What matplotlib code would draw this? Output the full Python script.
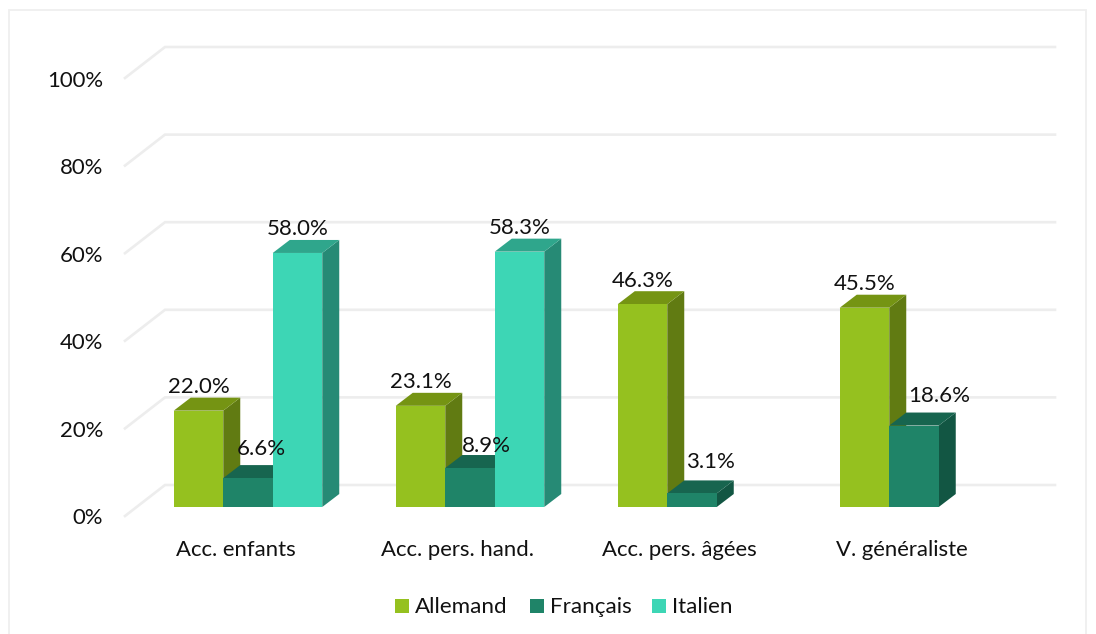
import matplotlib
matplotlib.use('Agg')
import matplotlib.pyplot as plt
from matplotlib.patches import Polygon, Rectangle

plt.rcParams['font.family'] = ['Lato', 'DejaVu Sans']

categories = ['Acc. enfants', 'Acc. pers. hand.', 'Acc. pers. âgées', 'V. généraliste']
allemand = [22.0, 23.1, 46.3, 45.5]
francais = [6.6, 8.9, 3.1, 18.6]
italien = [58.0, 58.3, None, None]
grid_values = [0, 20, 40, 60, 80, 100]

series = [
    ('Allemand', allemand, '#95c11f', '#617b12', '#759413'),
    ('Français', francais, '#1f8468', '#125643', '#17654f'),
    ('Italien', italien, '#3dd6b5', '#268a75', '#2fa68c'),
]

W, H = 1096, 634
PX_X = 222.0    # pixels per category
PX_Y = 4.38     # pixels per percent
X0 = 248.0      # pixel of first group centre
Y0 = 507.0      # pixel of 0% on the bars front

# the french labels were moved by hand in the original, (right, down) in pixels
label_shift = {0: (13, -6), 1: (16, 1), 2: (18, -8), 3: (25, -6)}

fig = plt.figure(figsize=(W / 100, H / 100), dpi=100)
ax = fig.add_axes([0, 0, 1, 1])
ax.set_xlim(-X0 / PX_X, (W - X0) / PX_X)
ax.set_ylim(-(H - Y0) / PX_Y, Y0 / PX_Y)
ax.axis('off')


def xp(px):
    return (px - X0) / PX_X


def yp(px):
    return px / PX_Y


bar_w = 49.5 / PX_X
dx = 17 / PX_X
dy = yp(13)
grid_c = '#ededed'
text_c = '#111111'

# chart border
ax.add_patch(Rectangle((xp(9.5), yp(Y0 - 640)), xp(1086) - xp(9.5), yp(630), fill=False,
                       ec='#efefef', lw=1.3, zorder=1))

# back wall lines and the slanted side wall
for v in grid_values:
    back = v + yp(22)
    ax.plot([xp(1055), xp(165), xp(125)], [back, back, v - yp(9)], color=grid_c, lw=1.9,
            solid_joinstyle='miter', zorder=2)
    ax.text(xp(103), v - yp(11.5), f'{v}%', ha='right', va='center', fontsize=15.9, color=text_c,
            zorder=20)

# bars, left to right so the next front face covers the previous side
z = 3
for i, cat in enumerate(categories):
    for j in range(3):
        name, vals, front, side, top = series[j]
        v = vals[i]
        if v is None:
            continue
        x = i + (j - 1) * bar_w
        left = x - bar_w / 2
        right = x + bar_w / 2
        ax.add_patch(Polygon([(right, 0), (right + dx, dy), (right + dx, v + dy), (right, v)],
                             closed=True, fc=side, ec='none', zorder=z))
        ax.add_patch(Polygon([(left, v), (left + dx, v + dy), (right + dx, v + dy), (right, v)],
                             closed=True, fc=top, ec='none', zorder=z))
        ax.bar(x, v, width=bar_w, color=front, zorder=z + 0.5, linewidth=0)
        z += 1
        sx, sy = (0, 0)
        if j == 1:
            sx, sy = label_shift[i]
        ax.text(x + sx / PX_X, v + dy + yp(0.5 - sy), f'{v:.1f}%', ha='center', va='bottom',
                fontsize=16, color=text_c, zorder=30)

for i, cat in enumerate(categories):
    ax.text(i - 12.5 / PX_X, yp(Y0 - 550), cat, ha='center', va='center', fontsize=15.9,
            color=text_c, zorder=20)

# legend
leg_y = Y0 - 606
for name, box_px, text_px, front in [(series[0][0], 395, 415, series[0][2]),
                                     (series[1][0], 530, 550, series[1][2]),
                                     (series[2][0], 652, 672, series[2][2])]:
    ax.add_patch(Rectangle((xp(box_px), yp(leg_y - 7)), 14 / PX_X, yp(14), fc=front, ec='none'))
    ax.text(xp(text_px), yp(leg_y - 1), name, ha='left', va='center', fontsize=16.1, color=text_c)

fig.savefig('out.png', dpi=100, facecolor='white')
